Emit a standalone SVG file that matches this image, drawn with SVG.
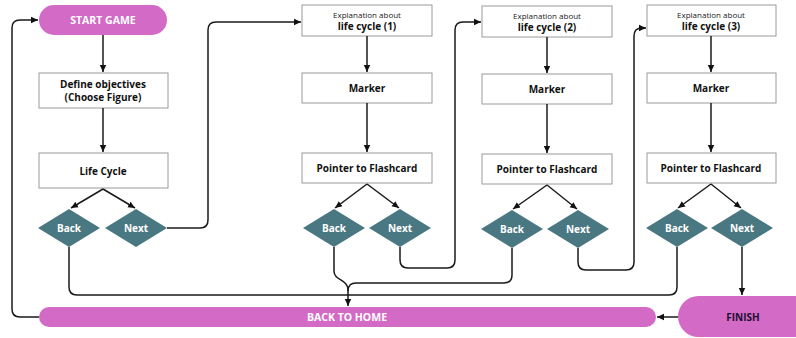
<svg xmlns="http://www.w3.org/2000/svg" width="796" height="338" viewBox="0 0 796 338">
<defs>
<marker id="ah" markerWidth="8" markerHeight="8" refX="7" refY="4" orient="auto" markerUnits="userSpaceOnUse">
<path d="M0,0.8 L7,4 L0,7.2 Z" fill="#111"/>
</marker>
<style>
.box{fill:#fff;stroke:#9a9a9a;stroke-width:1}
.pill{fill:#D36AC6}
.dia{fill:#4A7882}
.t{font-family:"Open Sans","Liberation Sans",sans-serif;font-weight:700;font-size:10px;fill:#111;text-anchor:middle;dominant-baseline:central}
.ts{font-family:"Open Sans","Liberation Sans",sans-serif;font-weight:400;font-size:8px;fill:#222;text-anchor:middle;dominant-baseline:central}
.w{fill:#fff}
.big{font-size:10.5px}
.c{fill:none;stroke:#1a1a1a;stroke-width:1.5}
</style>
</defs>
<rect width="796" height="338" fill="#fff"/>

<g id="start"><rect class="pill" x="39" y="5" width="128" height="30" rx="15"/><text class="t w big" x="103" y="20">START GAME</text></g>
<g id="define"><rect class="box" x="39" y="73" width="129" height="35"/><text class="t" x="103" y="84">Define objectives</text><text class="t" x="103" y="97">(Choose Figure)</text></g>
<g id="lifecycle"><rect class="box" x="39" y="153" width="129" height="35"/><text class="t" x="103" y="170.5">Life Cycle</text></g>
<g id="back0"><polygon class="dia" points="69,209 100,228 69,247 38,228"/><text class="t w" x="69" y="228">Back</text></g>
<g id="next0"><polygon class="dia" points="136,209 167,228 136,247 105,228"/><text class="t w" x="136" y="228">Next</text></g>

<g id="exp1"><rect class="box" x="302" y="5" width="130" height="31"/><text class="ts" x="367" y="14.5">Explanation about</text><text class="t" x="367" y="26">life cycle (1)</text></g>
<g id="marker1"><rect class="box" x="302" y="73" width="130" height="30"/><text class="t" x="367" y="88">Marker</text></g>
<g id="pointer1"><rect class="box" x="302" y="153" width="130" height="30"/><text class="t" x="367" y="168">Pointer to Flashcard</text></g>
<g id="back1"><polygon class="dia" points="334,209 365,228 334,247 303,228"/><text class="t w" x="334" y="228">Back</text></g>
<g id="next1"><polygon class="dia" points="400,209 431,228 400,247 369,228"/><text class="t w" x="400" y="228">Next</text></g>

<g id="exp2"><rect class="box" x="482" y="6" width="130" height="31"/><text class="ts" x="547" y="15.5">Explanation about</text><text class="t" x="547" y="27">life cycle (2)</text></g>
<g id="marker2"><rect class="box" x="482" y="74" width="130" height="30"/><text class="t" x="547" y="89">Marker</text></g>
<g id="pointer2"><rect class="box" x="482" y="154" width="130" height="30"/><text class="t" x="547" y="169">Pointer to Flashcard</text></g>
<g id="back2"><polygon class="dia" points="512,210 543,229 512,248 481,229"/><text class="t w" x="512" y="229">Back</text></g>
<g id="next2"><polygon class="dia" points="578,210 609,229 578,248 547,229"/><text class="t w" x="578" y="229">Next</text></g>

<g id="exp3"><rect class="box" x="647" y="5" width="129" height="31"/><text class="ts" x="711" y="14.5">Explanation about</text><text class="t" x="711" y="26">life cycle (3)</text></g>
<g id="marker3"><rect class="box" x="647" y="73" width="129" height="30"/><text class="t" x="711" y="88">Marker</text></g>
<g id="pointer3"><rect class="box" x="647" y="153" width="129" height="30"/><text class="t" x="711" y="168">Pointer to Flashcard</text></g>
<g id="back3"><polygon class="dia" points="677,209 708,228 677,247 646,228"/><text class="t w" x="677" y="228">Back</text></g>
<g id="next3"><polygon class="dia" points="742,209 773,228 742,247 711,228"/><text class="t w" x="742" y="228">Next</text></g>

<g id="backhome"><rect class="pill" x="39" y="307" width="617" height="20" rx="10"/><text class="t w big" x="347" y="317">BACK TO HOME</text></g>
<g id="finish"><rect class="pill" x="678" y="296" width="140" height="41" rx="20.5"/><text class="t" x="743" y="317" style="fill:#1a1030">FINISH</text></g>

<g id="connectors">
<path class="c" d="M103,35 V72" marker-end="url(#ah)"/>
<path class="c" d="M103,108 V152" marker-end="url(#ah)"/>
<path class="c" d="M103,189 L71,208" marker-end="url(#ah)"/>
<path class="c" d="M103,189 L135,208" marker-end="url(#ah)"/>
<path class="c" d="M167,228 H200 Q208,228 208,220 V30 Q208,22 216,22 H301" marker-end="url(#ah)"/>
<path class="c" d="M69,247 V287 Q69,295 77,295 H669 Q677,295 677,287 V247"/>

<path class="c" d="M367,103 V152" marker-end="url(#ah)"/>
<path class="c" d="M367,36 V72" marker-end="url(#ah)"/>
<path class="c" d="M367,184 L335,208" marker-end="url(#ah)"/>
<path class="c" d="M367,184 L399,208" marker-end="url(#ah)"/>
<path class="c" d="M334,247 V271 C334,281 348,279 348,290 V306" marker-end="url(#ah)"/>
<path class="c" d="M400,247 V260 Q400,268 408,268 H447 Q455,268 455,260 V30 Q455,22 463,22 H481" marker-end="url(#ah)"/>

<path class="c" d="M547,37 V73" marker-end="url(#ah)"/>
<path class="c" d="M547,104 V153" marker-end="url(#ah)"/>
<path class="c" d="M547,185 L513,209" marker-end="url(#ah)"/>
<path class="c" d="M547,185 L577,209" marker-end="url(#ah)"/>
<path class="c" d="M512,248 V275 Q512,283 504,283 H356 Q348,283 348,291"/>
<path class="c" d="M578,248 V262 Q578,270 586,270 H626 Q634,270 634,262 V36 Q634,28 642,28 H646" marker-end="url(#ah)"/>

<path class="c" d="M711,36 V72" marker-end="url(#ah)"/>
<path class="c" d="M711,103 V152" marker-end="url(#ah)"/>
<path class="c" d="M711,184 L678,208" marker-end="url(#ah)"/>
<path class="c" d="M711,184 L741,208" marker-end="url(#ah)"/>
<path class="c" d="M742,247 V295" marker-end="url(#ah)"/>
<path class="c" d="M678,317 H657" marker-end="url(#ah)"/>
<path class="c" d="M39,317 H20 Q12,317 12,309 V28 Q12,20 20,20 H38" marker-end="url(#ah)"/>
</g>
</svg>
